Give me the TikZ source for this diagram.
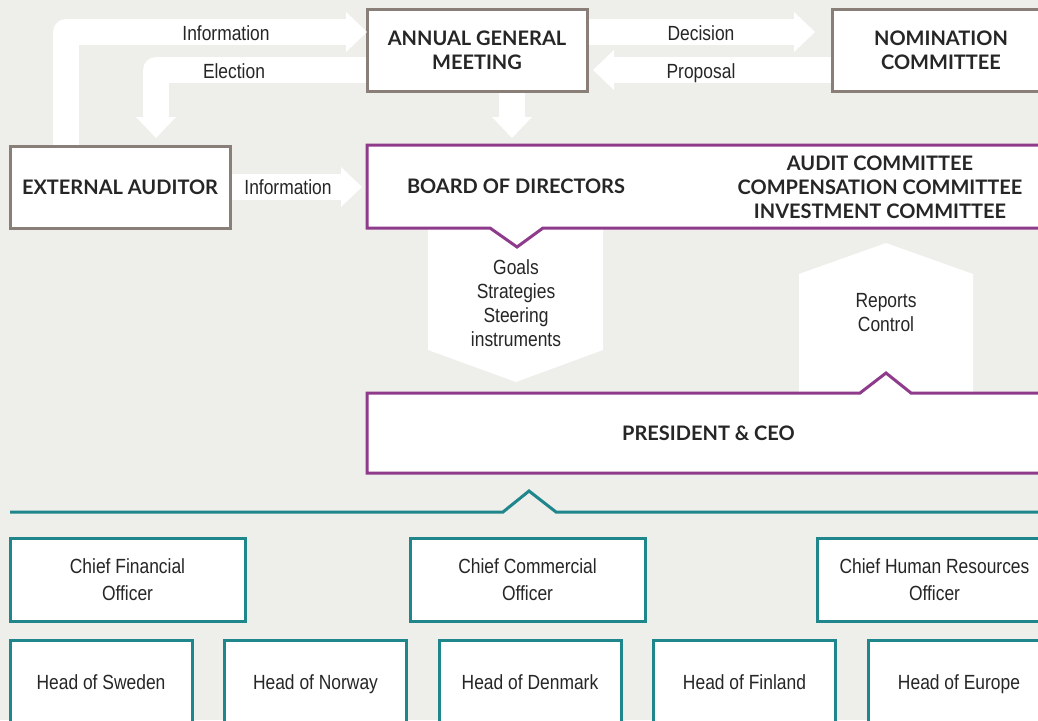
\documentclass[tikz,border=0pt]{standalone}
\usepackage{fontspec}
\setmainfont{Liberation Sans}[FakeStretch=0.85]
\newfontfamily\headfont{Lato}
\usetikzlibrary{positioning,arrows.meta}

\definecolor{paper}{HTML}{EEEEEA}
\definecolor{plum}{HTML}{8E3B8B}
\definecolor{tealline}{HTML}{1F868B}
\definecolor{frame}{HTML}{8A7F78}
\definecolor{ink}{HTML}{262626}

\newcommand\lblfont{\fontsize{20.5}{24}\selectfont}
\newcommand\hdrfont{\headfont\bfseries\fontsize{20}{24}\selectfont}

\begin{document}
\begin{tikzpicture}[x=1pt,y=-1pt,
    every node/.style={inner sep=0pt,outer sep=0pt,text=ink,font=\lblfont},
    govbox/.style={draw=frame,line width=3pt,fill=white,align=center,font=\hdrfont,minimum height=82pt},
    ledbox/.style={fill=white,minimum width=683pt,minimum height=83pt},
    orgbox/.style={draw=tealline,line width=3pt,fill=white,align=center,font=\fontsize{20.5}{26.5}\selectfont,minimum width=235pt,minimum height=83pt},
    headbox/.style={orgbox,minimum width=182pt,text height=15pt,text depth=0pt},
    flow/.style={draw=white,line width=26pt,line join=round,shorten <=1.5pt,-{Triangle[width=40pt,length=21pt,line width=0pt]}},
    plumline/.style={draw=plum,line width=3pt},
    node distance=32.5pt
  ]
  \useasboundingbox (0,0) rectangle (1038,720);
  \clip (0,0) rectangle (1038,720);
  \fill[paper] (0,0) rectangle (1038,720);

  \node[govbox,minimum width=220pt] (agm) at (477,50) {ANNUAL GENERAL\\MEETING};
  \node[govbox,minimum width=218pt] (nom) at (941,50) {NOMINATION\\COMMITTEE};
  \node[govbox,minimum width=220pt] (aud) at (120,187) {EXTERNAL AUDITOR};
  \node[ledbox] (board) at (708.5,186.5) {};
  \node[ledbox,minimum height=80pt,font=\hdrfont] (ceo) at (708.5,433) {PRESIDENT \& CEO};

  \draw[flow] (aud.north -| 66,0) |- (agm.west |- 0,32);
  \draw[flow,shorten >=8pt] (agm.west |- 0,70) -| (aud.north -| 156,0);
  \draw[flow,shorten >=5pt] (aud.east) -- (board.west |- aud.east);
  \draw[flow,shorten >=7pt] (agm.south -| 512,0) -- (board.north -| 512,0);
  \draw[flow,shorten >=17pt] (agm.east |- 0,32) -- (nom.west |- 0,32);
  \draw[flow,shorten >=6pt] (nom.west |- 0,70) -- (agm.east |- 0,70);

  \node[anchor=base] (info1) at (226,40) {Information};
  \node[anchor=base] (elect) at (234,78) {Election};
  \node[anchor=base] (decis) at (701,40) {Decision};
  \node[anchor=base] (propo) at (701,78) {Proposal};
  \node[anchor=base] (info2) at (288,194) {Information};

  \node[font=\hdrfont] (bod) at (516,186.5) {BOARD OF DIRECTORS};
  \node[align=center,font=\hdrfont] (comm) at (880,187.5)
    {AUDIT COMMITTEE\\COMPENSATION COMMITTEE\\INVESTMENT COMMITTEE};

  \fill[white] (board.south -| 428,0) -- (board.south -| 603,0) -- (603,350) -- (516,382) -- (428,350) -- cycle;
  \fill[white] (ceo.north -| 799,0) -- (799,274) -- (886,243) -- (973,274) -- (ceo.north -| 973,0) -- cycle;
  \node[align=center] (goals) at (516,303) {Goals\\Strategies\\Steering\\instruments};
  \node[align=center] (reports) at (886,313) {Reports\\Control};

  \draw[plumline] (board.north east) -- (board.north west) -- (board.south west)
    -- (490,228) -- (517,247) -- (543,228) -- (board.south east);
  \draw[plumline] (ceo.south east) -- (ceo.south west) -- (ceo.north west)
    -- (860,393) -- (886,373) -- (911,393) -- (ceo.north east);

  \draw[tealline,line width=3pt] (10,512) -- (503,512) -- (529,491) -- (556,512) -- (1050,512);

  \node[orgbox] (cfo) at (127.5,579.5) {Chief Financial\\Officer};
  \node[orgbox,right=165pt of cfo] (cco) {Chief Commercial\\Officer};
  \node[orgbox,right=172pt of cco] (chro) {Chief Human Resources\\Officer};

  \node[headbox] (sweden) at (101,681.5) {Head of Sweden};
  \node[headbox,right=of sweden] (norway) {Head of Norway};
  \node[headbox,right=of norway] (denmark) {Head of Denmark};
  \node[headbox,right=of denmark] (finland) {Head of Finland};
  \node[headbox,right=of finland] (europe) {Head of Europe};
\end{tikzpicture}
\end{document}
